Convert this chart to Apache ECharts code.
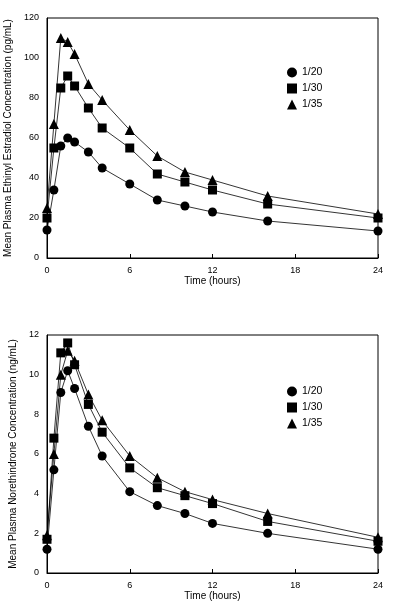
<!DOCTYPE html>
<html><head><meta charset="utf-8">
<script src="https://cdn.jsdelivr.net/npm/echarts@6/dist/echarts.min.js"></script>
<style>body{margin:0;background:#fff}#c{width:400px;height:613px}</style>
</head><body><div id="c"></div>
<script>
const times = [0, 0.5, 1, 1.5, 2, 3, 4, 6, 8, 10, 12, 16, 24];
const seriesNames = ["1/20", "1/30", "1/35"];
const symbols = ["circle", "rect", "triangle"];
const ee20 = [14, 34, 56, 60, 58, 53, 45, 37, 29, 26, 23, 18.5, 13.5];
const ee30 = [20, 55, 85, 91, 86, 75, 65, 55, 42, 38, 34, 27, 20];
const ee35 = [25, 67, 110, 108, 102, 87, 79, 64, 51, 43, 39, 31, 22];
const ne20 = [1.2, 5.2, 9.1, 10.2, 9.3, 7.4, 5.9, 4.1, 3.4, 3.0, 2.5, 2.0, 1.2];
const ne30 = [1.7, 6.8, 11.1, 11.6, 10.5, 8.5, 7.1, 5.3, 4.3, 3.9, 3.5, 2.6, 1.6];
const ne35 = [1.9, 6.0, 10.0, 11.2, 10.7, 9.0, 7.7, 5.9, 4.8, 4.1, 3.7, 3.0, 1.8];

const font = "Liberation Sans";
const axisText = { color: "#000", fontSize: 9, fontFamily: font };

function xAxis(idx) {
    return {
        gridIndex: idx, type: "value", min: 0, max: 24, interval: 6,
        name: "Time (hours)", nameLocation: "middle", nameGap: 18,
        nameTextStyle: { color: "#000", fontSize: 10, fontFamily: font },
        axisLine: { lineStyle: { color: "#000" } },
        axisTick: { lineStyle: { color: "#000" }, length: 4, inside: true },
        axisLabel: axisText, splitLine: { show: false }
    };
}
function yAxis(idx, max, interval, name) {
    return {
        gridIndex: idx, type: "value", min: 0, max: max, interval: interval,
        name: name, nameLocation: "middle", nameGap: 26,
        nameTextStyle: { color: "#000", fontSize: 10, fontFamily: font },
        axisLine: { show: true, lineStyle: { color: "#000" } },
        axisTick: { show: false },
        axisLabel: axisText, splitLine: { show: false }
    };
}
function mk(data, i, idx) {
    return {
        name: seriesNames[i], type: "line", xAxisIndex: idx, yAxisIndex: idx,
        data: times.map((t, k) => [t, data[k]]),
        symbol: symbols[i], symbolSize: i === 2 ? 10 : 9,
        lineStyle: { color: "#000", width: 0.8 },
        itemStyle: { color: "#000" }
    };
}
function legend(top) {
    return {
        orient: "vertical", left: 282, top: top, itemGap: 5,
        itemWidth: 10, itemHeight: 10,
        textStyle: { color: "#000", fontSize: 10.5, fontFamily: font },
        data: seriesNames.map((n, i) => ({ name: n, icon: symbols[i] })),
        itemStyle: { color: "#000" }, lineStyle: { opacity: 0 }
    };
}

const gridBase = { left: 47, width: 331, show: true, borderColor: "#000", borderWidth: 1,
    containLabel: false, outerBoundsMode: "none" };

const chart = echarts.init(document.getElementById("c"));
chart.setOption({
    animation: false,
    grid: [
        Object.assign({ top: 18, height: 240 }, gridBase),
        Object.assign({ top: 335, height: 238 }, gridBase)
    ],
    legend: [legend(62), legend(381)],
    xAxis: [xAxis(0), xAxis(1)],
    yAxis: [
        yAxis(0, 120, 20, "Mean Plasma Ethinyl Estradiol Concentration (pg/mL)"),
        yAxis(1, 12, 2, "Mean Plasma Norethindrone Concentration (ng/mL)")
    ],
    series: [
        mk(ee20, 0, 0), mk(ee30, 1, 0), mk(ee35, 2, 0),
        mk(ne20, 0, 1), mk(ne30, 1, 1), mk(ne35, 2, 1)
    ]
});
</script></body></html>
